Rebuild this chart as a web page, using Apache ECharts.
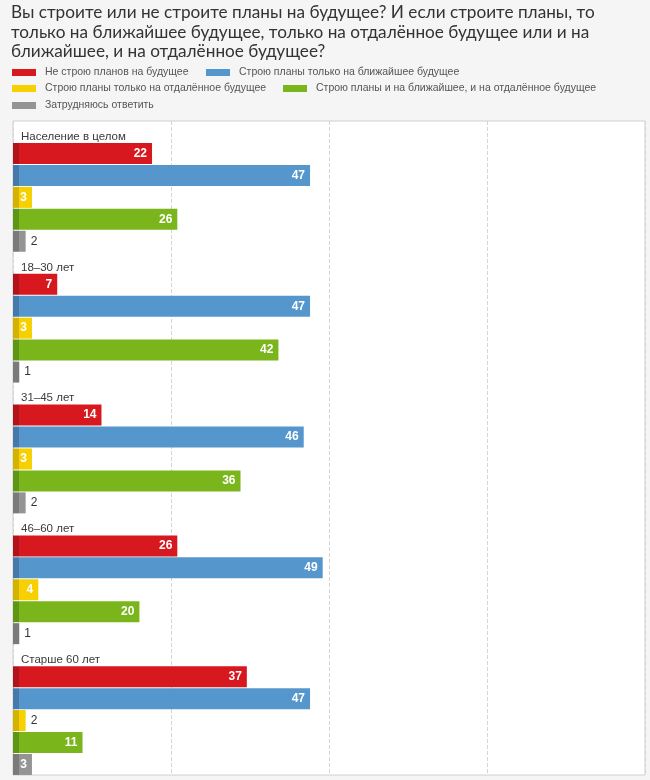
<!DOCTYPE html>
<html><head><meta charset="utf-8">
<script src="https://cdn.jsdelivr.net/npm/echarts@6/dist/echarts.min.js"></script>
<style>html,body{margin:0;padding:0;background:#f5f5f5;}#c{width:650px;height:780px;}</style>
</head><body><div id="c"></div>
<script>
const categories = ["Население в целом", "18–30 лет", "31–45 лет", "46–60 лет", "Старше 60 лет"];
const seriesNames = ["Не строю планов на будущее", "Строю планы только на ближайшее будущее", "Строю планы только на отдалённое будущее", "Строю планы и на ближайшее, и на отдалённое будущее", "Затрудняюсь ответить"];
const notPlanning = [22, 7, 14, 26, 37];
const nearOnly = [47, 47, 46, 49, 47];
const farOnly = [3, 3, 3, 4, 2];
const nearAndFar = [26, 42, 36, 20, 11];
const hardToSay = [2, 1, 2, 1, 3];
const xTicks = [0, 25, 50, 75, 100];

const values = [notPlanning, nearOnly, farOnly, nearAndFar, hardToSay];
const colors = ["#d7181f", "#5596cd", "#f6d000", "#7ab51c", "#949494"];
const darks = ["#b0141a", "#4479aa", "#d4b300", "#5f9514", "#7a7a7a"];
const FONT = "'Liberation Sans', Arial, sans-serif";

function grad(c, d) {
  const e = 18.5 / 650;
  return new echarts.graphic.LinearGradient(0, 0, 650, 0, [
    {offset: 0, color: d}, {offset: e, color: d}, {offset: e + 0.0001, color: c}, {offset: 1, color: c}
  ], true);
}

const series = [{
  name: "_spacer", type: "bar", barWidth: 21, barGap: "4.5%", silent: true,
  itemStyle: {color: "rgba(0,0,0,0)"},
  data: categories.map(() => 0),
  label: {show: true, position: "right", distance: 8, color: "#3a3a3a", fontSize: 11.5, fontFamily: FONT,
    offset: [0, 5], formatter: p => categories[p.dataIndex]}
}];
values.forEach((arr, i) => {
  series.push({
    name: seriesNames[i], type: "bar", barWidth: 21, barGap: "4.5%",
    itemStyle: {color: grad(colors[i], darks[i])},
    data: arr.map(v => ({
      value: v,
      label: v >= 3
        ? {show: true, position: "insideRight", distance: 5, color: "#fff", fontWeight: "bold", fontSize: 12, fontFamily: FONT}
        : {show: true, position: "right", distance: 5, color: "#333", fontWeight: "normal", fontSize: 12, fontFamily: FONT}
    }))
  });
});

const legendPos = [[12, 67], [206, 67], [12, 83], [283, 83], [12, 100]];
const legends = seriesNames.map((n, i) => ({
  data: [n], left: legendPos[i][0], top: legendPos[i][1], icon: "rect",
  itemWidth: 24, itemHeight: 7, padding: 0, selectedMode: false,
  textStyle: {fontSize: 10.5, color: "#555", fontFamily: FONT, padding: [0, 0, 0, 4]},
  itemStyle: {color: colors[i]}
}));

const chart = echarts.init(document.getElementById("c"), null, {renderer: "canvas"});
chart.setOption({
  backgroundColor: "#f5f5f5",
  animation: false,
  color: colors,
  title: {
    text: "Вы строите или не строите планы на будущее? И если строите планы, то\nтолько на ближайшее будущее, только на отдалённое будущее или и на\nближайшее, и на отдалённое будущее?",
    left: 11, top: 3, padding: 0,
    textStyle: {fontSize: 17.2, fontWeight: "normal", color: "#333", fontFamily: "Lato, sans-serif", lineHeight: 19.5}
  },
  legend: legends,
  grid: {left: 13, right: 5, top: 121, bottom: 5, show: true, backgroundColor: "#fff", borderColor: "#cfcfcf", borderWidth: 1},
  xAxis: {
    type: "value", min: xTicks[0], max: xTicks[xTicks.length - 1], interval: 25,
    axisLabel: {show: false}, axisLine: {show: false}, axisTick: {show: false},
    splitLine: {show: true, lineStyle: {type: "dashed", color: "#d5d5d5"}}
  },
  yAxis: {
    type: "category", data: categories, inverse: true,
    axisLine: {show: false}, axisTick: {show: false}, axisLabel: {show: false}
  },
  series: series
});
</script></body></html>
